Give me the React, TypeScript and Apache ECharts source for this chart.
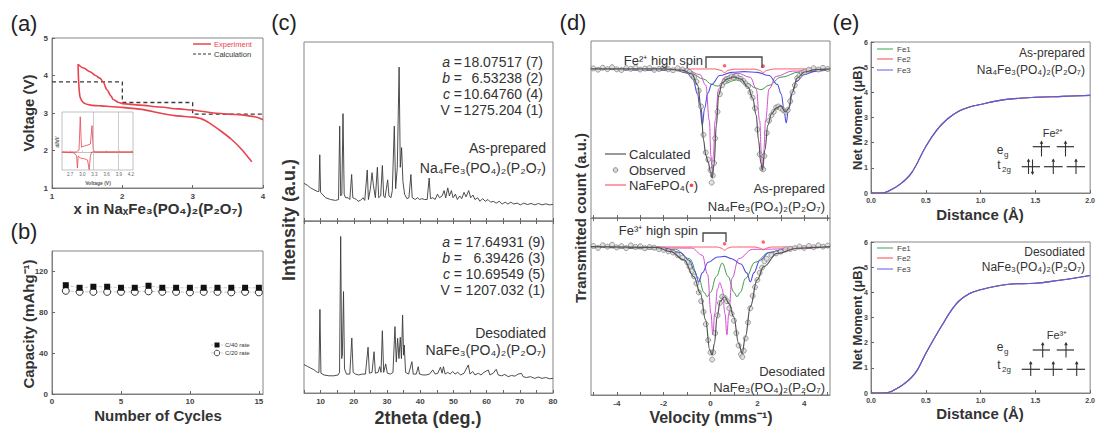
import React, { useEffect, useRef } from "react";
import * as echarts from "echarts";

const FONT = 'Arial, "Liberation Sans", Helvetica, sans-serif';

// ---------------- (a) voltage profile ----------------
const aChargeX = [1.37, 1.45, 1.54, 1.62, 1.68, 1.73, 1.78, 1.84, 1.87, 1.95, 2.0, 2.25, 2.53, 2.8, 3.0, 3.15, 3.3, 3.5, 3.7, 3.85, 4.0];
const aChargeV = [4.30, 4.20, 4.10, 4.00, 3.93, 3.82, 3.62, 3.45, 3.36, 3.28, 3.25, 3.21, 3.16, 3.11, 3.08, 3.04, 3.0, 2.97, 2.95, 2.91, 2.82];
const aDischargeX = [1.37, 1.375, 1.385, 1.40, 1.45, 1.55, 1.7, 2.0, 2.3, 2.53, 2.75, 3.0, 3.12, 3.24, 3.4, 3.55, 3.7, 3.84];
const aDischargeV = [4.30, 4.00, 3.65, 3.42, 3.27, 3.21, 3.19, 3.15, 3.09, 3.0, 2.93, 2.89, 2.85, 2.73, 2.52, 2.3, 2.02, 1.70];
const aCalcX = [1, 2, 2, 3, 3, 4];
const aCalcV = [3.83, 3.83, 3.28, 3.28, 2.97, 2.97];
const aInsetChargeX = [2.5, 2.85, 2.92, 2.95, 2.98, 3.05, 3.12, 3.2, 3.24, 3.27, 3.3, 4.25];
const aInsetChargeY = [0, 0, 0.05, 0.88, 0.12, 0.15, 0.17, 0.2, 0.66, 0.05, 0, 0];
const aInsetDisX = [2.5, 2.8, 2.86, 2.88, 2.9, 2.95, 3.05, 3.13, 3.17, 3.2, 3.23, 4.25];
const aInsetDisY = [0, -0.02, -0.1, -0.4, -0.1, -0.15, -0.17, -0.2, -0.44, -0.1, 0, 0];
const aInsetLines = [3.27, 3.88];
const aInsetTicks = [2.7, 3.0, 3.3, 3.6, 3.9, 4.2];

// ---------------- (b) cycling ----------------
const bCycles = [1, 2, 3, 4, 5, 6, 7, 8, 9, 10, 11, 12, 13, 14, 15];
const bC40 = [106.5, 104, 105, 105, 104, 104, 106, 104, 104, 104, 104, 104, 104, 104, 104];
const bC20 = [101, 100, 100, 100, 100, 100, 100.5, 100, 100, 99.5, 100, 100, 99.5, 100, 99.5];

// ---------------- (c) XRD ----------------
const cAsPrepared = [[5,21],[6,20],[7,18.5],[8,17.5],[9,16.5],[9.5,16.5],[9.75,37],[10.0,16],[10.5,15],[11.5,13],[13,12],[14.5,11.5],[15.4,12],[15.75,53],[16.05,14],[16.4,15],[16.75,60],[17.1,15],[17.5,13],[18.3,13],[18.8,12],[19.35,26],[19.7,13],[20.3,12.5],[20.8,12],[21.3,11],[22,11.5],[22.8,13],[23.3,11.5],[24.05,28.5],[24.4,12],[25,18],[25.5,27],[25.9,20],[26.5,13],[27.1,30],[27.5,13],[28.1,14],[28.6,31],[29,14],[29.4,13],[29.8,18],[30.2,23],[30.6,14],[31.2,13],[31.6,17],[32.2,53],[32.6,18],[33.1,30],[33.65,86],[34.0,30],[34.4,41],[34.8,22],[35.3,15],[36,12.5],[36.6,13],[37.2,26],[37.6,13],[38.5,12],[39.2,13],[39.8,12],[40.5,12.5],[41.3,12],[42.1,12],[42.7,24],[43.1,12.5],[43.8,13],[44.5,12],[45.2,15],[45.8,13],[46.6,14],[47.2,17],[47.7,13],[48.3,18.5],[48.8,14],[49.4,17],[49.9,13],[50.6,15],[51.2,12],[51.9,14],[52.5,12.5],[53.2,16],[53.8,13.5],[54.6,17],[55.2,13],[55.9,14.5],[56.5,12],[57.3,13],[58,11],[58.8,12.5],[59.6,11],[60.4,12],[61.2,10.5],[62,11],[62.9,10],[63.8,11],[64.7,9.5],[65.6,10.5],[66.4,9.5],[67.3,10.5],[68.2,9.5],[69.2,10],[70.2,9],[71.2,10],[72.3,9.2],[73.4,9.8],[74.5,9],[75.6,9.8],[76.7,9],[77.8,9.6],[79,9],[80,9.3]];
const cDesodiated = [[5,16.5],[6,15.5],[7,14.5],[8,13.5],[9,12],[9.5,12],[9.8,48.6],[10.1,11.5],[11,10.5],[12.5,10],[14,10],[15.3,10.5],[15.7,12],[16.05,91],[16.35,20],[16.55,22],[16.9,59],[17.2,14],[17.8,11],[18.8,11],[19.4,32],[19.8,12],[20.5,11],[21.5,10.5],[22.5,11],[23.5,11],[24.3,26.6],[24.7,11.5],[25.5,12],[26.1,24],[26.5,11.5],[27.3,12],[27.8,15.3],[28.2,12],[28.6,36.2],[29.0,12],[29.6,16.9],[30.1,11.5],[31,11],[31.8,12],[32.4,38.6],[32.8,18],[33.2,31.8],[33.6,20],[34.0,32.4],[34.35,20],[34.7,45.3],[35.0,22],[35.2,27.9],[35.6,12],[36.5,11],[37.5,18.2],[37.9,11],[38.8,11],[39.4,15.3],[39.8,11],[40.8,10.5],[41.8,10.5],[42.8,11],[43.8,13.4],[44.5,11],[45.3,11.5],[46.1,15],[46.6,11.5],[47.0,15.3],[47.5,11],[48.3,12],[49,11],[49.8,12.5],[50.5,11],[51.3,12],[52.2,10.5],[53.2,11.5],[54.5,16.3],[55,11],[55.8,12.5],[56.5,10.5],[57.5,11.5],[58.3,10.5],[59.2,12],[60.5,13.4],[61,10.5],[62.0,11.5],[62.9,13.8],[63.5,10.5],[64.5,10],[65.5,10.8],[66.5,9.5],[67.5,10.2],[68.5,9.8],[69.5,11],[70.5,11.4],[71,9.5],[72,9],[73.2,9.5],[74.5,8.5],[75.6,9.3],[76.7,8.5],[77.8,9],[79,8.3],[80,8.5]];
const cLatticeTop = [["a", "18.07517 (7)"], ["b", "6.53238 (2)"], ["c", "10.64760 (4)"], ["V", "1275.204 (1)"]];
const cLatticeBottom = [["a", "17.64931 (9)"], ["b", "6.39426 (3)"], ["c", "10.69549 (5)"], ["V", "1207.032 (1)"]];

// ---------------- (d) Mössbauer ----------------
const dTopObs = [[-5.0,84.5],[-4.8,83.8],[-4.6,84.9],[-4.4,84.1],[-4.2,85.2],[-4.0,84.0],[-3.8,83.6],[-3.6,84.7],[-3.4,84.3],[-3.2,85.0],[-3.0,83.9],[-2.8,84.4],[-2.6,84.8],[-2.4,83.7],[-2.2,84.2],[-2.0,84.9],[-1.8,84.0],[-1.6,83.5],[-1.4,84.6],[-1.2,83.9],[-1.0,83.2],[-0.9,82.5],[-0.8,81.0],[-0.7,79.5],[-0.6,77.0],[-0.5,72.0],[-0.4,63.0],[-0.3,47.0],[-0.2,37.0],[-0.1,33.0],[0.0,27.0],[0.05,20.0],[0.1,24.0],[0.15,31.0],[0.2,45.0],[0.3,60.0],[0.4,70.0],[0.5,75.0],[0.6,77.0],[0.7,78.5],[0.8,79.0],[0.9,80.0],[1.0,79.5],[1.1,80.2],[1.2,79.0],[1.3,78.6],[1.4,77.5],[1.5,76.0],[1.6,74.5],[1.7,71.0],[1.8,68.0],[1.9,62.0],[2.0,50.0],[2.1,36.0],[2.2,28.0],[2.25,27.5],[2.3,35.0],[2.4,48.0],[2.5,55.0],[2.6,58.0],[2.7,60.0],[2.8,62.5],[2.9,63.0],[3.0,62.0],[3.1,61.0],[3.2,60.0],[3.3,61.0],[3.4,66.0],[3.5,71.0],[3.6,75.0],[3.7,79.0],[3.8,80.5],[3.9,82.0],[4.0,82.5],[4.2,83.8],[4.4,84.6],[4.6,83.9],[4.8,84.8],[5.0,84.2]];
const dTopCalc = [[-5.1,84.2],[-2.0,84.2],[-1.2,83.6],[-0.8,81.4],[-0.55,75.1],[-0.4,62.1],[-0.3,44.1],[-0.2,35.6],[-0.1,31.6],[0.0,26],[0.07,22.6],[0.15,30],[0.25,52.5],[0.35,69.5],[0.5,76.3],[0.7,78.5],[1.0,79.7],[1.3,78.5],[1.6,74],[1.8,67.8],[1.95,58.2],[2.05,44],[2.15,31],[2.22,27.1],[2.32,38.4],[2.45,52.5],[2.6,58.8],[2.8,62.1],[3.0,63.3],[3.2,59.9],[3.35,62.1],[3.5,71.2],[3.7,79.1],[4.0,82.5],[4.5,83.9],[5.1,84.2]];
const dTopBlue = [[-5.1,84.2],[-1.5,83.6],[-1.0,82],[-0.75,78.5],[-0.55,70],[-0.45,62],[-0.35,52.5],[-0.25,62],[-0.12,70.5],[0.05,75.5],[0.4,80.5],[0.9,82.3],[1.45,82.7],[2.0,82.3],[2.5,80.5],[2.85,75.5],[3.02,70],[3.13,62],[3.23,53.7],[3.33,62],[3.45,70],[3.65,77],[4.0,81],[4.5,83],[5.1,83.8]];
const dTopMagenta = [[-5.1,84.2],[-1.0,83.6],[-0.45,81],[-0.2,75],[-0.05,55],[0.02,35],[0.07,24.5],[0.12,35],[0.2,55],[0.35,73],[0.6,79.5],[1.15,81.8],[1.7,79.5],[1.95,73],[2.1,55],[2.17,37],[2.22,27],[2.27,37],[2.35,55],[2.5,73],[2.8,80],[3.5,83],[5.1,84]];
const dTopGreen = [[-5.1,84.2],[-1.5,83.3],[-0.8,81.5],[-0.3,78.5],[0.05,75.5],[0.3,74.5],[0.6,76],[1.1,78],[1.6,76],[1.9,73.5],[2.15,72.5],[2.5,75],[3.0,79.5],[3.8,82.5],[5.1,83.8]];
const dTopRed = [[-5.1,84.3],[0.2,84.2],[0.45,83.4],[0.6,82.2],[0.75,83.4],[1.0,84.1],[1.9,84.1],[2.1,83.4],[2.25,82.2],[2.4,83.4],[2.7,84.2],[5.1,84.3]];
const dTopStars = [[0.6, 86], [2.25, 85.8]];

const dBotObs = [[-5.0,84.2],[-4.8,83.1],[-4.6,84.6],[-4.4,83.8],[-4.2,84.9],[-4.0,83.4],[-3.8,84.1],[-3.6,83.0],[-3.4,84.5],[-3.2,83.7],[-3.0,84.0],[-2.8,82.9],[-2.6,83.6],[-2.4,83.2],[-2.2,82.4],[-2.0,82.0],[-1.8,81.2],[-1.6,80.5],[-1.4,79.0],[-1.2,77.5],[-1.0,75.0],[-0.9,72.5],[-0.8,70.0],[-0.7,67.0],[-0.6,63.0],[-0.5,58.0],[-0.4,53.0],[-0.3,47.0],[-0.2,40.0],[-0.1,31.0],[0.0,24.0],[0.07,20.0],[0.12,24.0],[0.2,35.0],[0.3,45.0],[0.4,52.0],[0.5,55.5],[0.6,55.0],[0.7,53.0],[0.8,49.0],[0.9,46.0],[1.0,42.0],[1.1,35.0],[1.2,28.0],[1.3,23.0],[1.36,21.5],[1.42,25.0],[1.5,32.0],[1.6,41.0],[1.7,49.0],[1.8,56.0],[1.9,61.0],[2.0,65.0],[2.1,69.0],[2.2,72.0],[2.3,75.5],[2.4,77.0],[2.6,79.0],[2.8,80.0],[3.0,81.0],[3.2,82.2],[3.4,82.5],[3.6,83.0],[3.8,83.9],[4.0,83.1],[4.2,84.2],[4.4,83.5],[4.6,84.6],[4.8,83.8],[5.0,84.4]];
const dBotCalc = [[-5.1,83.8],[-2.3,83.4],[-1.7,81],[-1.13,76.3],[-0.71,66.8],[-0.43,57.5],[-0.21,42.4],[-0.03,25.4],[0.07,22.6],[0.17,29.2],[0.28,44.2],[0.42,53],[0.6,55.5],[0.8,51.5],[0.99,44.2],[1.2,29.2],[1.35,23.5],[1.49,33],[1.7,49.9],[1.99,65],[2.27,72.5],[2.84,80],[3.69,82.9],[4.8,83.6],[5.1,83.8]];
const dBotBlue = [[-5.1,83.6],[-2.0,83],[-1.3,80.5],[-0.9,76],[-0.68,70],[-0.5,64],[-0.35,69],[-0.1,75],[0.3,78],[0.6,78.3],[0.9,77],[1.3,74],[1.55,69],[1.7,64],[1.85,69],[2.1,76],[2.5,80.5],[3.2,82.5],[5.1,83.6]];
const dBotMagenta = [[-5.1,83.6],[-0.8,83],[-0.35,79],[-0.12,68],[0.02,46],[0.1,34],[0.18,46],[0.3,60],[0.4,63.5],[0.5,60],[0.62,46],[0.7,34],[0.78,46],[0.92,66],[1.2,77],[1.8,82.3],[5.1,83.6]];
const dBotGreen = [[-5.1,83.6],[-1.5,82.3],[-0.9,77],[-0.5,66],[-0.28,58],[-0.14,55.5],[0.0,58],[0.25,67],[0.5,74.5],[0.75,67],[1.0,58],[1.13,55.5],[1.27,58],[1.5,66],[1.9,75],[2.5,80.5],[3.5,83],[5.1,83.6]];
const dBotRed = [[-5.1,83.8],[0.3,83.6],[0.45,83],[0.6,81.8],[0.75,83],[0.9,83.6],[1.9,83.6],[2.1,83.0],[2.25,82],[2.4,83.0],[2.6,83.6],[5.1,83.8]];
const dBotStars = [[0.6, 85.5], [2.25, 86.5]];
const dTicks = [-5, -4, -3, -2, -1, 0, 1, 2, 3, 4, 5];
const dLabels = [-4, -2, 0, 2, 4];

// ---------------- (e) net moment ----------------
const eTopD = [0, 0.1, 0.17, 0.26, 0.37, 0.5, 0.6, 0.7, 0.8, 0.9, 1.0, 1.15, 1.28, 1.5, 1.75, 2.0];
const eTopM = [0, 0, 0.1, 0.33, 0.8, 1.85, 2.5, 2.95, 3.25, 3.42, 3.52, 3.66, 3.74, 3.8, 3.84, 3.88];
const eBotD = [0, 0.11, 0.26, 0.4, 0.5, 0.64, 0.78, 0.9, 1.0, 1.15, 1.28, 1.5, 1.72, 1.85, 2.0];
const eBotM = [0, 0, 0.24, 0.77, 1.57, 2.63, 3.55, 3.95, 4.1, 4.25, 4.33, 4.36, 4.48, 4.56, 4.67];
const eNames = ["Fe1", "Fe2", "Fe3"];
const eColors = ["#3aa64a", "#ee4b4b", "#5a5af0"];

const zip = (xs: number[], ys: number[]) => xs.map((x, i) => [x, ys[i]]);

function T(text: string, x: number, y: number, o: any = {}) {
  return {
    type: "text", x, y, rotation: o.rot || 0, z: 100,
    style: {
      text, fill: o.color || "#333", fontSize: o.size || 12, fontFamily: FONT,
      fontWeight: o.bold ? "bold" : "normal", fontStyle: o.italic ? "italic" : "normal",
      textAlign: o.align || "left", textVerticalAlign: "middle",
      align: o.align || "left", verticalAlign: "middle", rich: o.rich,
    },
  };
}
function L(x1: number, y1: number, x2: number, y2: number, color = "#333", width = 1, dash?: number[]) {
  return { type: "line", z: 100, shape: { x1, y1, x2, y2 }, style: { stroke: color, lineWidth: width, lineDash: dash } };
}
function arrow(x: number, yBottom: number, yTop: number, up: boolean) {
  const head = up
    ? [[x, yTop - 1], [x - 1.8, yTop + 2.2], [x + 1.8, yTop + 2.2]]
    : [[x, yBottom + 1], [x - 1.8, yBottom - 2.2], [x + 1.8, yBottom - 2.2]];
  return [
    L(x, yBottom, x, yTop, "#333", 1.1),
    { type: "polygon", z: 100, shape: { points: head }, style: { fill: "#333" } },
  ];
}

function buildOption() {
  const axLabel = { fontSize: 8, fontWeight: "bold", color: "#444", fontFamily: FONT, margin: 4 };
  const axLine = { show: true, lineStyle: { color: "#808080", width: 1 } };
  const tickIn = { inside: true, length: 3, lineStyle: { color: "#666" } };
  const noSplit = { show: false };
  const grid = (left: number, top: number, width: number, height: number, extra: any = {}) => ({
    left, top, width, height, show: true, borderColor: "#858585", borderWidth: 1, ...extra,
  });

  const grids = [
    grid(52, 38, 211, 150),
    grid(62, 112, 71, 58, { borderColor: "#999", borderWidth: 0.6, backgroundColor: "#fff" }),
    grid(52, 251, 211, 143),
    grid(304, 42, 249, 179),
    grid(304, 221, 249, 172),
    grid(591, 41, 239, 177),
    grid(591, 218, 239, 177),
    grid(871, 42, 226, 151),
    grid(871, 242, 226, 151),
  ];

  const xAxis: any[] = [
    { gridIndex: 0, type: "value", min: 1, max: 4, interval: 1, axisLine: axLine, axisTick: tickIn, axisLabel: axLabel, splitLine: noSplit },
    { gridIndex: 1, type: "value", min: 2.5, max: 4.25, axisLine: { show: true, lineStyle: { color: "#999", width: 0.6 } },
      axisTick: { inside: true, length: 1.5, customValues: aInsetTicks, lineStyle: { color: "#999", width: 0.5 } },
      axisLabel: { customValues: aInsetTicks, fontSize: 4.5, color: "#666", margin: 2, fontFamily: FONT,
        formatter: (v: number) => v.toFixed(1) }, splitLine: noSplit },
    { gridIndex: 2, type: "value", min: 0, max: 15.3, interval: 5, axisLine: axLine, axisTick: tickIn,
      axisLabel: { ...axLabel, margin: 3, showMaxLabel: false }, splitLine: noSplit },
    { gridIndex: 3, type: "value", min: 5, max: 80, interval: 5, axisLine: axLine,
      axisTick: { inside: false, length: 3, lineStyle: { color: "#666" } }, axisLabel: { show: false }, splitLine: noSplit },
    { gridIndex: 4, type: "value", min: 5, max: 80, interval: 5, axisLine: axLine, axisTick: tickIn,
      axisLabel: { ...axLabel, formatter: (v: number) => (v % 10 === 0 ? String(v) : "") }, splitLine: noSplit },
    { gridIndex: 4, type: "value", position: "top", min: 5, max: 80, interval: 5, axisLine: axLine,
      axisTick: { inside: false, length: 3, lineStyle: { color: "#666" } }, axisLabel: { show: false }, splitLine: noSplit },
    { gridIndex: 5, type: "value", min: -5.1, max: 5.1, axisLine: axLine,
      axisTick: { inside: false, length: 3, customValues: dTicks, lineStyle: { color: "#666" } }, axisLabel: { show: false }, splitLine: noSplit },
    { gridIndex: 6, type: "value", min: -5.1, max: 5.1, axisLine: axLine,
      axisTick: { inside: true, length: 3, customValues: dTicks, lineStyle: { color: "#666" } },
      axisLabel: { ...axLabel, customValues: dLabels }, splitLine: noSplit },
    { gridIndex: 6, type: "value", position: "top", min: -5.1, max: 5.1, axisLine: axLine,
      axisTick: { inside: false, length: 3, customValues: dTicks, lineStyle: { color: "#666" } }, axisLabel: { show: false }, splitLine: noSplit },
    { gridIndex: 7, type: "value", min: 0, max: 2, interval: 0.5, axisLine: axLine, axisTick: tickIn,
      axisLabel: { ...axLabel, fontSize: 7, formatter: (v: number) => v.toFixed(1) }, splitLine: noSplit },
    { gridIndex: 8, type: "value", min: 0, max: 2, interval: 0.5, axisLine: axLine, axisTick: tickIn,
      axisLabel: { ...axLabel, fontSize: 7, formatter: (v: number) => v.toFixed(1) }, splitLine: noSplit },
  ];

  const hiddenY = (gridIndex: number, min: number, max: number) => ({
    gridIndex, type: "value", min, max, axisLine: { show: false }, axisTick: { show: false }, axisLabel: { show: false }, splitLine: noSplit,
  });
  const yAxis: any[] = [
    { gridIndex: 0, type: "value", min: 1, max: 5, interval: 1, axisLine: axLine, axisTick: tickIn, axisLabel: axLabel, splitLine: noSplit },
    hiddenY(1, -0.45, 1.0),
    { gridIndex: 2, type: "value", min: 0, max: 140, interval: 40, axisLine: axLine, axisTick: tickIn,
      axisLabel: { ...axLabel, showMaxLabel: false }, splitLine: noSplit },
    hiddenY(3, 0, 100),
    hiddenY(4, 0, 100),
    hiddenY(5, 0, 100),
    hiddenY(6, 0, 100),
    { gridIndex: 7, type: "value", min: 0, max: 6, interval: 1, axisLine: axLine, axisTick: tickIn,
      axisLabel: { ...axLabel, fontSize: 7, margin: 3 }, splitLine: noSplit },
    { gridIndex: 8, type: "value", min: 0, max: 6, interval: 1, axisLine: axLine, axisTick: tickIn,
      axisLabel: { ...axLabel, fontSize: 7, margin: 3 }, splitLine: noSplit },
  ];

  const line = (xi: number, yi: number, data: any[], color: string, width = 1, extra: any = {}) => ({
    type: "line", xAxisIndex: xi, yAxisIndex: yi, data, symbol: "none", showSymbol: false,
    lineStyle: { color, width }, silent: true, ...extra,
  });

  const RED = "#e8444e";
  const series: any[] = [
    // (a)
    line(0, 0, zip(aCalcX, aCalcV), "#3a3a3a", 1.3, { lineStyle: { color: "#3a3a3a", width: 1.3, type: [4, 3] }, z: 2 }),
    line(0, 0, zip(aChargeX, aChargeV), RED, 1.6, { smooth: 0.3, smoothMonotone: "x", z: 3 }),
    line(0, 0, zip(aDischargeX, aDischargeV), RED, 1.6, { smooth: 0.2, z: 3 }),
    line(1, 1, zip(aInsetChargeX, aInsetChargeY), RED, 0.8, {
      markLine: { silent: true, symbol: "none", label: { show: false }, lineStyle: { color: "#aaa", width: 0.6, type: "solid" },
        data: aInsetLines.map((v) => ({ xAxis: v })) },
    }),
    line(1, 1, zip(aInsetDisX, aInsetDisY), RED, 0.8),
    // (b)
    { type: "line", xAxisIndex: 2, yAxisIndex: 2, data: zip(bCycles, bC40), symbol: "rect", symbolSize: 6, silent: true,
      itemStyle: { color: "#111" }, lineStyle: { color: "#bbb", width: 0.8, type: "dashed" }, z: 4 },
    { type: "line", xAxisIndex: 2, yAxisIndex: 2, data: zip(bCycles, bC20), symbol: "circle", symbolSize: 7, silent: true,
      itemStyle: { color: "#fff", borderColor: "#333", borderWidth: 1 }, lineStyle: { color: "#bbb", width: 0.8, type: "dashed" }, z: 3 },
    // (c)
    line(3, 3, cAsPrepared, "#3a3a3a", 0.9),
    line(4, 4, cDesodiated, "#3a3a3a", 0.9),
  ];

  // (d)
  const dPanel = (xi: number, yi: number, obs: any[], calc: any[], blue: any[], mag: any[], green: any[], red: any[], stars: any[]) => [
    line(xi, yi, green, "#3e9e4a", 1, { smooth: 0.4, smoothMonotone: "x", z: 2 }),
    line(xi, yi, mag, "#d44fcf", 1, { smooth: 0.4, smoothMonotone: "x", z: 2 }),
    line(xi, yi, blue, "#4f4fe0", 1.1, { smooth: 0.4, smoothMonotone: "x", z: 2 }),
    line(xi, yi, red, "#ff5a6a", 1, { smooth: 0.4, smoothMonotone: "x", z: 2 }),
    { type: "scatter", xAxisIndex: xi, yAxisIndex: yi, data: obs, symbol: "circle", symbolSize: 5, silent: true, z: 3,
      itemStyle: { color: "#d9d9d9", borderColor: "#6e6e6e", borderWidth: 0.8 } },
    line(xi, yi, calc, "#555", 1.2, { smooth: 0.4, smoothMonotone: "x", z: 4 }),
    { type: "scatter", xAxisIndex: xi, yAxisIndex: yi, data: stars, symbol: "circle", symbolSize: 3.5, silent: true, z: 5,
      itemStyle: { color: "#ff3b4e" } },
  ];
  series.push(...dPanel(6, 5, dTopObs, dTopCalc, dTopBlue, dTopMagenta, dTopGreen, dTopRed, dTopStars));
  series.push(...dPanel(7, 6, dBotObs, dBotCalc, dBotBlue, dBotMagenta, dBotGreen, dBotRed, dBotStars));

  // (e)
  eNames.forEach((n, i) => {
    series.push(line(9, 7, zip(eTopD, eTopM), eColors[i], 1.1, { name: n, smooth: 0.4, z: 2 + i }));
    series.push(line(10, 8, zip(eBotD, eBotM), eColors[i], 1.1, { name: n, smooth: 0.4, z: 2 + i }));
  });

  // ---------------- annotations ----------------
  const g: any[] = [];
  // panel letters
  [["(a)", 24, 23], ["(b)", 24, 231], ["(c)", 284, 22], ["(d)", 573, 22], ["(e)", 846, 22]].forEach(([t, x, y]) =>
    g.push(T(t as string, x as number, y as number, { size: 22, align: "center", color: "#222" })));

  // (a)
  g.push(L(193, 44, 211, 44, RED, 1.5));
  g.push(T("Experiment", 214, 44, { size: 7.5, color: RED }));
  g.push(L(193, 54, 211, 54, "#333", 1.2, [3, 2]));
  g.push(T("Calculation", 214, 54, { size: 7.5, color: "#333" }));
  g.push(T("dI/dV", 57.5, 142, { size: 4.5, italic: true, bold: true, rot: Math.PI / 2, align: "center", color: "#555" }));
  g.push(T("Voltage (V)", 98, 182.5, { size: 5, bold: true, align: "center", color: "#555" }));
  g.push(T("Voltage (V)", 28, 113, { size: 15, bold: true, rot: Math.PI / 2, align: "center", color: "#333" }));
  g.push(T("x in NaₓFe₃(PO₄)₂(P₂O₇)", 158, 208, { size: 15, bold: true, align: "center", color: "#333" }));

  // (b)
  g.push(L(211, 345, 223, 345, "#bbb", 0.8, [2, 1.5]));
  g.push({ type: "rect", z: 101, shape: { x: 214.5, y: 342.5, width: 5, height: 5 }, style: { fill: "#111" } });
  g.push(T("C/40 rate", 225, 345, { size: 6, color: "#333" }));
  g.push(L(211, 353, 223, 353, "#bbb", 0.8, [2, 1.5]));
  g.push({ type: "circle", z: 101, shape: { cx: 217, cy: 353, r: 2.8 }, style: { fill: "#fff", stroke: "#333", lineWidth: 0.9 } });
  g.push(T("C/20 rate", 225, 353, { size: 6, color: "#333" }));
  g.push(T("Capacity (mAhg⁻¹)", 28, 324, { size: 15, bold: true, rot: Math.PI / 2, align: "center", color: "#333" }));
  g.push(T("Number of Cycles", 158, 415, { size: 15, bold: true, align: "center", color: "#333" }));

  // (c)
  const italicRich = { i: { fontStyle: "italic", fontSize: 14, fontFamily: FONT, fill: "#333" } };
  const lattice = (rows: string[][], y0: number, valX: number) => rows.forEach(([k, v], i) => {
    const y = y0 + i * 16;
    g.push(T(k === "V" ? "V =" : `{i|${k}} =`, 462, y, { size: 14, align: "right", rich: italicRich }));
    g.push(T(v, valX, y, { size: 14, align: "right" }));
  });
  lattice(cLatticeTop, 62, 543);
  lattice(cLatticeBottom, 242, 545);
  g.push(T("As-prepared", 546, 148, { size: 14, align: "right" }));
  g.push(T("Na₄Fe₃(PO₄)₂(P₂O₇)", 546, 168, { size: 14, align: "right" }));
  g.push(T("Desodiated", 546, 333, { size: 14, align: "right" }));
  g.push(T("NaFe₃(PO₄)₂(P₂O₇)", 546, 350, { size: 14, align: "right" }));
  g.push(T("Intensity (a.u.)", 289, 220, { size: 18, bold: true, rot: Math.PI / 2, align: "center", color: "#333" }));
  g.push(T("2theta (deg.)", 428, 418, { size: 18, bold: true, align: "center", color: "#333" }));

  // (d)
  g.push(T("Fe²⁺ high spin", 703, 60, { size: 13, align: "right" }));
  g.push({ type: "polyline", z: 100, shape: { points: [[706, 68], [706, 57], [762, 57], [762, 68]] }, style: { stroke: "#444", lineWidth: 1.3, fill: null } });
  g.push(L(605, 154, 626, 154, "#555", 1.2));
  g.push(T("Calculated", 629, 154, { size: 13 }));
  g.push({ type: "circle", z: 101, shape: { cx: 615.5, cy: 170, r: 2.3 }, style: { fill: "#d9d9d9", stroke: "#6e6e6e", lineWidth: 0.8 } });
  g.push(T("Observed", 629, 170, { size: 13 }));
  g.push(L(605, 185, 626, 185, "#ff5a6a", 1.2));
  g.push(T("NaFePO₄({r|•})", 629, 185, { size: 13, rich: { r: { fill: "#ff3b4e", fontSize: 13, fontFamily: FONT } } }));
  g.push(T("As-prepared", 825, 188, { size: 13, align: "right" }));
  g.push(T("Na₄Fe₃(PO₄)₂(P₂O₇)", 825, 206, { size: 13, align: "right" }));
  g.push(T("Fe³⁺ high spin", 698, 230, { size: 13, align: "right" }));
  g.push({ type: "polyline", z: 100, shape: { points: [[703, 242], [703, 233], [726, 233], [726, 242]] }, style: { stroke: "#444", lineWidth: 1.3, fill: null } });
  g.push(T("Desodiated", 825, 371, { size: 13, align: "right" }));
  g.push(T("NaFe₃(PO₄)₂(P₂O₇)", 825, 387, { size: 13, align: "right" }));
  g.push(T("Transmitted count (a.u.)", 580, 218, { size: 15, bold: true, rot: Math.PI / 2, align: "center", color: "#333" }));
  g.push(T("Velocity (mms⁻¹)", 711, 417, { size: 16, bold: true, align: "center", color: "#333" }));

  // (e)
  const eLegend = (ys: number[]) => eNames.forEach((n, i) => {
    g.push(L(877, ys[i], 893, ys[i], eColors[i], 1));
    g.push(T(n, 897, ys[i], { size: 8, color: "#444" }));
  });
  eLegend([49, 59, 70]);
  eLegend([248, 258, 269]);
  g.push(T("As-prepared", 1085, 53, { size: 12, align: "right" }));
  g.push(T("Na₄Fe₃(PO₄)₂(P₂O₇)", 1085, 70, { size: 12, align: "right" }));
  g.push(T("Desodiated", 1085, 252, { size: 12, align: "right" }));
  g.push(T("NaFe₃(PO₄)₂(P₂O₇)", 1085, 267, { size: 12, align: "right" }));
  [118, 318].forEach((y) => g.push(T("Net Moment (μB)", 857, y, { size: 13, bold: true, rot: Math.PI / 2, align: "center", color: "#333" })));
  [214, 413].forEach((y) => g.push(T("Distance (Å)", 980, y, { size: 15, bold: true, align: "center", color: "#333" })));

  // energy diagrams
  const segs = (y: number, xs: number[][]) => xs.forEach(([a, b]) => g.push(L(a, y, b, y, "#333", 1.2)));
  g.push(T("Fe²⁺", 1053, 133, { size: 11, align: "center" }));
  g.push(T("e", 1000, 150, { size: 12, align: "center" }));
  g.push(T("g", 1004, 154, { size: 8 }));
  g.push(T("t", 999, 165, { size: 12, align: "center" }));
  g.push(T("2g", 1002, 169, { size: 8 }));
  segs(146.7, [[1032.7, 1050], [1056.7, 1074]]);
  g.push(...arrow(1041.5, 156.5, 141.5, true), ...arrow(1065.5, 156.5, 141.5, true));
  segs(166.7, [[1021.7, 1040], [1044, 1062.7], [1066.7, 1085]]);
  g.push(...arrow(1028.5, 174, 159.5, true), ...arrow(1032.5, 174, 159.5, false),
    ...arrow(1053.3, 174, 159.5, true), ...arrow(1076, 174, 159.5, true));

  g.push(T("Fe³⁺", 1057, 335, { size: 11, align: "center" }));
  g.push(T("e", 1000, 347, { size: 12, align: "center" }));
  g.push(T("g", 1004, 351, { size: 8 }));
  g.push(T("t", 999, 365, { size: 12, align: "center" }));
  g.push(T("2g", 1002, 369, { size: 8 }));
  segs(350, [[1032.7, 1050], [1056.7, 1074]]);
  g.push(...arrow(1042.7, 357.5, 343, true), ...arrow(1066, 357.5, 343, true));
  segs(369.3, [[1021.7, 1040], [1044, 1062.7], [1066.7, 1085]]);
  g.push(...arrow(1030.7, 376, 362, true), ...arrow(1053.3, 376, 362, true), ...arrow(1076.7, 376, 362, true));

  return {
    animation: false,
    backgroundColor: "#fff",
    textStyle: { fontFamily: FONT },
    grid: grids,
    xAxis,
    yAxis,
    series,
    graphic: { elements: g },
  };
}

export default function App() {
  const ref = useRef<HTMLDivElement>(null);
  useEffect(() => {
    if (!ref.current) return;
    const chart = echarts.init(ref.current, null, { renderer: "svg", width: 1098, height: 429 });
    chart.setOption(buildOption() as any);
    return () => chart.dispose();
  }, []);
  return (
    <div
      ref={ref}
      style={{ position: "fixed", left: 0, top: 0, width: 1098, height: 429, background: "#fff" }}
    />
  );
}
